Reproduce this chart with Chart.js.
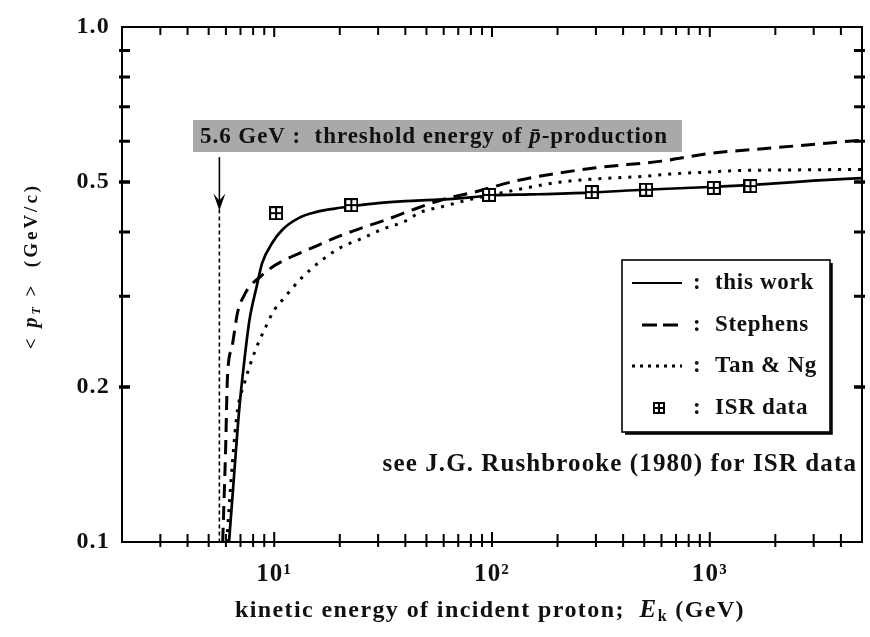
<!DOCTYPE html>
<html><head><meta charset="utf-8">
<script src="https://cdn.jsdelivr.net/npm/chart.js@4.4.1/dist/chart.umd.min.js"></script>
<style>html,body{margin:0;padding:0;background:#fff;}canvas{display:block;}</style>
</head><body>
<canvas id="c" width="870" height="637"></canvas>
<script>
// ---- data ----
const thisWorkE  = [6.2, 6.5, 6.9, 7.3, 7.7, 8.3, 8.8, 9.8, 10.9, 13, 15.5, 19, 23, 30, 40, 56, 80, 100, 150, 280, 500, 1000, 1500, 2000, 3000, 5000];
const thisWorkPT = [0.1, 0.13, 0.18, 0.226, 0.27, 0.313, 0.348, 0.381, 0.404, 0.426, 0.437, 0.444, 0.449, 0.455, 0.459, 0.462, 0.467, 0.471, 0.473, 0.477, 0.483, 0.489, 0.493, 0.497, 0.503, 0.509];
const stephensE  = [5.8, 5.98, 6.1, 6.4, 6.8, 7.3, 7.7, 8.6, 9.8, 12, 15.5, 20, 26, 33, 41, 60, 83, 130, 200, 300, 600, 1000, 2000, 5000];
const stephensPT = [0.1, 0.151, 0.209, 0.239, 0.28, 0.302, 0.313, 0.327, 0.342, 0.358, 0.375, 0.393, 0.409, 0.423, 0.438, 0.463, 0.478, 0.503, 0.52, 0.533, 0.549, 0.568, 0.583, 0.603];
const tanNgE     = [6.05, 6.44, 6.78, 7.3, 7.7, 8.3, 9.0, 10, 10.9, 13.3, 16.6, 20.4, 24.4, 31, 40, 47, 58, 80, 130, 200, 280, 500, 650, 1000, 1300, 2650, 5000];
const tanNgPT    = [0.1, 0.144, 0.18, 0.2035, 0.219, 0.239, 0.258, 0.282, 0.295, 0.325, 0.353, 0.374, 0.386, 0.404, 0.42, 0.437, 0.447, 0.463, 0.483, 0.499, 0.506, 0.513, 0.518, 0.523, 0.526, 0.528, 0.529];
const isrE       = [10.2, 22.6, 97, 287, 510, 1043, 1538];
const isrPT      = [0.435, 0.451, 0.472, 0.478, 0.483, 0.487, 0.491];
const thresholdE = 5.6;
const thresholdPT = [0.442, 0.1];
const arrowPT = [0.559, 0.442];
const seriesNames = ['this work', 'Stephens', 'Tan & Ng', 'ISR data'];
const xTickValues = [10, 100, 1000];
const xTickLabels = ['10¹', '10²', '10³'];
const yTickValues = [0.1, 0.2, 0.5, 1.0];
const yTickLabels = ['0.1', '0.2', '0.5', '1.0'];
const xRange = [2, 5000];
const yRange = [0.1, 1.0];
const annotationText = ['5.6 GeV :  threshold energy of ', 'p̄', '-production'];
const noteText = 'see J.G. Rushbrooke (1980) for ISR data';
const xTitleParts = ['kinetic energy of incident proton;  ', 'E', 'k', ' (GeV)'];
const yTitleParts = ['< ', 'p', 'T', ' >', '  (GeV/c)'];

// ---- helpers ----
const SERIF = "'Liberation Serif', 'DejaVu Serif', serif";
const TXT = '#111';
function pts(xs, ys) { return xs.map((x, i) => ({x: x, y: ys[i]})); }
function makeISR(size) {
  const c = document.createElement('canvas'); c.width = c.height = size;
  const g = c.getContext('2d');
  g.fillStyle = '#fff'; g.fillRect(0, 0, size, size);
  g.strokeStyle = '#000'; g.lineWidth = 2;
  g.strokeRect(1, 1, size - 2, size - 2);
  g.beginPath(); g.moveTo(size / 2, 1); g.lineTo(size / 2, size - 1);
  g.moveTo(1, size / 2); g.lineTo(size - 1, size / 2); g.stroke();
  return c;
}
function setLS(ctx, v) { if ('letterSpacing' in ctx) ctx.letterSpacing = v + 'px'; }
function drawParts(ctx, parts, x, y, align, ls) {
  setLS(ctx, ls || 0);
  let w = 0;
  parts.forEach(p => { ctx.font = p.f; w += ctx.measureText(p.t).width; });
  let cx = align === 'center' ? x - w / 2 : (align === 'right' ? x - w : x);
  ctx.textAlign = 'left';
  parts.forEach(p => { ctx.font = p.f; ctx.fillText(p.t, cx, y + (p.dy || 0)); cx += ctx.measureText(p.t).width; });
  setLS(ctx, 0);
}
function minorTicks(lo, hi) {
  const out = [];
  for (let e = Math.floor(Math.log10(lo)); e <= Math.ceil(Math.log10(hi)); e++) {
    for (let m = 1; m <= 9; m++) {
      const v = m * Math.pow(10, e);
      if (v > lo * 1.0001 && v < hi * 0.9999) out.push({v: v, major: m === 1});
    }
  }
  return out;
}

const spacingPlugin = {
  id: 'spacing',
  beforeDraw(chart) { setLS(chart.ctx, 1.2); },
  beforeDatasetsDraw(chart) { setLS(chart.ctx, 0); }
};

const decorPlugin = {
  id: 'decor',
  afterDatasetsDraw(chart) {
    const ctx = chart.ctx, a = chart.chartArea, xs = chart.scales.x, ys = chart.scales.y;
    ctx.save();
    ctx.strokeStyle = '#000'; ctx.fillStyle = '#000';
    // frame
    ctx.lineWidth = 2;
    ctx.strokeRect(a.left, a.top, a.right - a.left, a.bottom - a.top);
    // x ticks (bottom & top)
    minorTicks(xRange[0], xRange[1]).forEach(t => {
      const px = xs.getPixelForValue(t.v);
      const len = t.major ? 10 : 8;
      ctx.lineWidth = 2;
      ctx.beginPath();
      ctx.moveTo(px, a.bottom + 5); ctx.lineTo(px, a.bottom - len);
      ctx.moveTo(px, a.top); ctx.lineTo(px, a.top + len);
      ctx.stroke();
    });
    // y ticks (left & right)
    minorTicks(yRange[0], yRange[1]).concat([{v: 0.2, major: true}, {v: 0.5, major: true}]).forEach(t => {
      const py = ys.getPixelForValue(t.v);
      ctx.lineWidth = 3;
      ctx.beginPath();
      ctx.moveTo(a.left - 3, py); ctx.lineTo(a.left + 8, py);
      ctx.moveTo(a.right + 3, py); ctx.lineTo(a.right - 8, py);
      ctx.stroke();
    });
    // threshold arrow
    const ax = xs.getPixelForValue(thresholdE);
    const ay0 = ys.getPixelForValue(arrowPT[0]), ay1 = ys.getPixelForValue(arrowPT[1]);
    ctx.lineWidth = 1.6;
    ctx.beginPath(); ctx.moveTo(ax, ay0); ctx.lineTo(ax, ay1 - 6); ctx.stroke();
    ctx.beginPath();
    ctx.moveTo(ax, ay1 + 1); ctx.lineTo(ax - 6, ay1 - 16); ctx.lineTo(ax, ay1 - 9); ctx.lineTo(ax + 6, ay1 - 16);
    ctx.closePath(); ctx.fill();
    // annotation box
    const bx = a.left + 71, by = a.top + 93, bw = 489, bh = 32;
    ctx.fillStyle = '#a9a9a9'; ctx.fillRect(bx, by, bw, bh);
    ctx.fillStyle = TXT; ctx.textBaseline = 'middle';
    drawParts(ctx, [
      {t: annotationText[0], f: 'bold 23px ' + SERIF},
      {t: annotationText[1], f: 'italic bold 23px ' + SERIF},
      {t: annotationText[2], f: 'bold 23px ' + SERIF}
    ], bx + 7, by + bh / 2 + 1, 'left', 0.95);
    // legend
    const lx = a.left + 500, ly = a.top + 233, lw = 208, lh = 172;
    ctx.fillStyle = '#fff'; ctx.fillRect(lx, ly, lw, lh);
    ctx.strokeStyle = '#000'; ctx.lineWidth = 1.6; ctx.strokeRect(lx, ly, lw, lh);
    ctx.lineWidth = 2.5;
    ctx.beginPath(); ctx.moveTo(lx + lw + 1.5, ly + 3); ctx.lineTo(lx + lw + 1.5, ly + lh + 1.5); ctx.lineTo(lx + 3, ly + lh + 1.5); ctx.stroke();
    const rows = [23, 65, 106, 148];
    const dashes = [[], [15, 6], [3, 5], null];
    rows.forEach((r, i) => {
      const yy = ly + r;
      ctx.strokeStyle = '#000';
      if (dashes[i]) {
        ctx.setLineDash(dashes[i]); ctx.lineWidth = i === 0 ? 2.2 : 3;
        ctx.beginPath(); ctx.moveTo(lx + (i === 1 ? 20 : 10), yy); ctx.lineTo(lx + 60, yy); ctx.stroke();
        ctx.setLineDash([]);
      } else {
        ctx.drawImage(isrSmall, lx + 37 - isrSmall.width / 2, yy - isrSmall.height / 2);
      }
      ctx.fillStyle = TXT; ctx.textBaseline = 'middle';
      drawParts(ctx, [{t: ':', f: 'bold 23px ' + SERIF}], lx + 71, yy, 'left', 0);
      drawParts(ctx, [{t: seriesNames[i], f: 'bold 23px ' + SERIF}], lx + 93, yy, 'left', 0.7);
    });
    // note
    ctx.fillStyle = TXT;
    drawParts(ctx, [{t: noteText, f: 'bold 25px ' + SERIF}], a.right - 5, a.top + 438, 'right', 1.1);
    // axis titles
    ctx.textBaseline = 'middle';
    drawParts(ctx, [
      {t: xTitleParts[0], f: 'bold 24px ' + SERIF},
      {t: xTitleParts[1], f: 'italic bold 25px ' + SERIF},
      {t: xTitleParts[2], f: 'bold 16px ' + SERIF, dy: 6},
      {t: xTitleParts[3], f: 'bold 24px ' + SERIF}
    ], (a.left + a.right) / 2 - 2, 611, 'center', 1.4);
    ctx.save();
    ctx.translate(32, 266); ctx.rotate(-Math.PI / 2);
    drawParts(ctx, [
      {t: yTitleParts[0], f: 'bold 19px ' + SERIF},
      {t: yTitleParts[1], f: 'italic bold 20px ' + SERIF},
      {t: yTitleParts[2], f: 'italic bold 12px ' + SERIF, dy: 5},
      {t: yTitleParts[3], f: 'bold 19px ' + SERIF},
      {t: yTitleParts[4], f: 'bold 19px ' + SERIF}
    ], 0, 0, 'center', 3.0);
    ctx.restore();
    ctx.restore();
  }
};

const isrBig = makeISR(14);
const isrSmall = makeISR(12);

new Chart(document.getElementById('c'), {
  type: 'line',
  data: {
    datasets: [
      {label: seriesNames[3], data: pts(isrE, isrPT), showLine: false, pointStyle: isrBig, pointRadius: 7, order: 0},
      {label: seriesNames[0], data: pts(thisWorkE, thisWorkPT), borderColor: '#000', borderWidth: 2.7, pointRadius: 0, cubicInterpolationMode: 'monotone', order: 1},
      {label: seriesNames[1], data: pts(stephensE, stephensPT), borderColor: '#000', borderWidth: 3, borderDash: [14, 8], pointRadius: 0, cubicInterpolationMode: 'monotone', order: 2},
      {label: seriesNames[2], data: pts(tanNgE, tanNgPT), borderColor: '#000', borderWidth: 3, borderDash: [3, 7], pointRadius: 0, cubicInterpolationMode: 'monotone', order: 3},
      {label: 'threshold', data: thresholdPT.map(v => ({x: thresholdE, y: v})), borderColor: '#000', borderWidth: 1.6, borderDash: [4, 3], pointRadius: 0, tension: 0, order: 4}
    ]
  },
  options: {
    responsive: false, animation: false, events: [],
    layout: {padding: {left: 0, right: 5, top: 27, bottom: 0}},
    plugins: {legend: {display: false}, tooltip: {enabled: false}},
    scales: {
      x: {
        type: 'logarithmic', min: xRange[0], max: xRange[1],
        grid: {display: false, drawTicks: false}, border: {display: false},
        afterBuildTicks: s => { s.ticks = xTickValues.map(v => ({value: v})); },
        afterFit: s => { s.height = 95; },
        ticks: {autoSkip: false, maxRotation: 0, padding: 18, color: TXT,
          font: {family: SERIF, size: 25, weight: 'bold'},
          callback: v => { const i = xTickValues.indexOf(v); return i >= 0 ? xTickLabels[i] : ''; }}
      },
      y: {
        type: 'logarithmic', min: yRange[0], max: yRange[1],
        grid: {display: false, drawTicks: false}, border: {display: false},
        afterBuildTicks: s => { s.ticks = yTickValues.map(v => ({value: v})); },
        afterFit: s => { s.width = 122; },
        ticks: {autoSkip: false, padding: 12, color: TXT,
          font: {family: SERIF, size: 24, weight: 'bold'},
          callback: v => { const i = yTickValues.indexOf(v); return i >= 0 ? yTickLabels[i] : ''; }}
      }
    }
  },
  plugins: [spacingPlugin, decorPlugin]
});
</script>
</body></html>
